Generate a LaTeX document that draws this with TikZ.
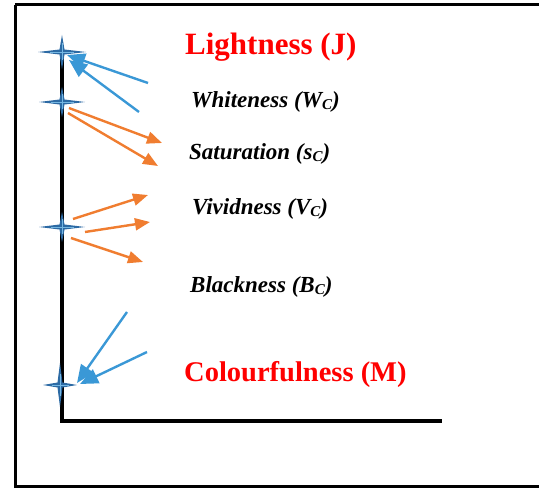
\documentclass[tikz,border=0pt]{standalone}
\usepackage{fontspec}
\setmainfont{Liberation Serif}
\usetikzlibrary{arrows.meta}
\definecolor{starblue}{RGB}{44,106,164}
\definecolor{arrblue}{RGB}{58,152,214}
\definecolor{arrorange}{RGB}{240,125,48}
\newcommand{\csub}[1]{\raisebox{-1.5pt}{\fontsize{15}{15}\selectfont #1}}

\tikzset{
  pics/cstar/.style 2 args={code={
    \fill[starblue] (#1,0) -- (2.5,2.5) -- (0,#2) -- (-2.5,2.5) -- (-#1,0)
      -- (-2.5,-2.5) -- (0,-#2) -- (2.5,-2.5) -- cycle;
    \draw[arrblue!70, line width=0.6pt] (-0.5*#1,0) -- (0.5*#1,0) (0,-0.5*#2) -- (0,0.5*#2);}},
  bluearrow/.style={draw=arrblue, line width=2.4pt, -{Triangle[length=18pt,width=15pt]}},
  orangearrow/.style={draw=arrorange, line width=2.4pt, -{Triangle[length=15pt,width=12pt]}},
  redlabel/.style={anchor=base west, inner sep=0pt, text=red, font=\bfseries},
  attrlabel/.style={anchor=base west, inner sep=0pt, font=\fontsize{23}{23}\selectfont\bfseries\itshape}
}

\begin{document}
\begin{tikzpicture}[x=1pt, y=-1pt, line cap=butt, line join=miter]
\useasboundingbox (0,0) rectangle (539,489);
\clip (0,0) rectangle (539,489);

% --- Cornice esterna ---
\draw[line width=3pt] (15,5) -- (560,5);
\draw[line width=3pt] (15,5) -- (15,487) -- (560,487);

% --- Assi ---
\coordinate (top) at (62,52);
\coordinate (orig) at (62,421);
\coordinate (xend) at (442,421);
\draw[line width=4pt] (top) -- (orig) -- (xend);

% --- Stelle sull'asse ---
\coordinate (J) at (62,52);
\coordinate (W) at (62,102);
\coordinate (V) at (62,227);
\coordinate (M) at (60,385);
\pic at (J) {cstar={24}{17}};
\pic at (W) {cstar={23}{15}};
\pic at (V) {cstar={23}{15}};
\pic at (M) {cstar={17}{22}};

% --- Etichette ---
\node[redlabel, font=\fontsize{31}{31}\selectfont\bfseries] (lJ) at (185,55) {Lightness (J)};
\node[attrlabel] (lW) at (191,108) {Whiteness (W\csub{C})};
\node[attrlabel] (lS) at (189,160) {Saturation (s\csub{C})};
\node[attrlabel] (lV) at (192,215) {Vividness (V\csub{C})};
\node[attrlabel] (lB) at (190,293) {Blackness (B\csub{C})};
\node[redlabel, font=\fontsize{28.5}{28.5}\selectfont\bfseries] (lM) at (184,382) {Colourfulness (M)};

% --- Frecce verso J ---
\coordinate (j1s) at (148,83);  \coordinate (j1e) at (67,55);
\coordinate (j2s) at (139,112); \coordinate (j2e) at (69,60);
\draw[bluearrow] (j1s) -- (j1e);
\draw[bluearrow] (j2s) -- (j2e);

% --- Frecce da W ---
\coordinate (w1s) at (69,108); \coordinate (w1e) at (162,143);
\coordinate (w2s) at (68,113); \coordinate (w2e) at (158,166);
\draw[orangearrow] (w1s) -- (w1e);
\draw[orangearrow] (w2s) -- (w2e);

% --- Frecce da V ---
\coordinate (v1s) at (73,219); \coordinate (v1e) at (148,195);
\coordinate (v2s) at (85,232); \coordinate (v2e) at (150,222);
\coordinate (v3s) at (71,238); \coordinate (v3e) at (143,262);
\draw[orangearrow] (v1s) -- (v1e);
\draw[orangearrow] (v2s) -- (v2e);
\draw[orangearrow] (v3s) -- (v3e);

% --- Frecce verso M ---
\coordinate (m1s) at (127,312); \coordinate (m1e) at (77,383);
\coordinate (m2s) at (147,352); \coordinate (m2e) at (80,384);
\draw[bluearrow] (m1s) -- (m1e);
\draw[bluearrow] (m2s) -- (m2e);
\end{tikzpicture}
\end{document}
